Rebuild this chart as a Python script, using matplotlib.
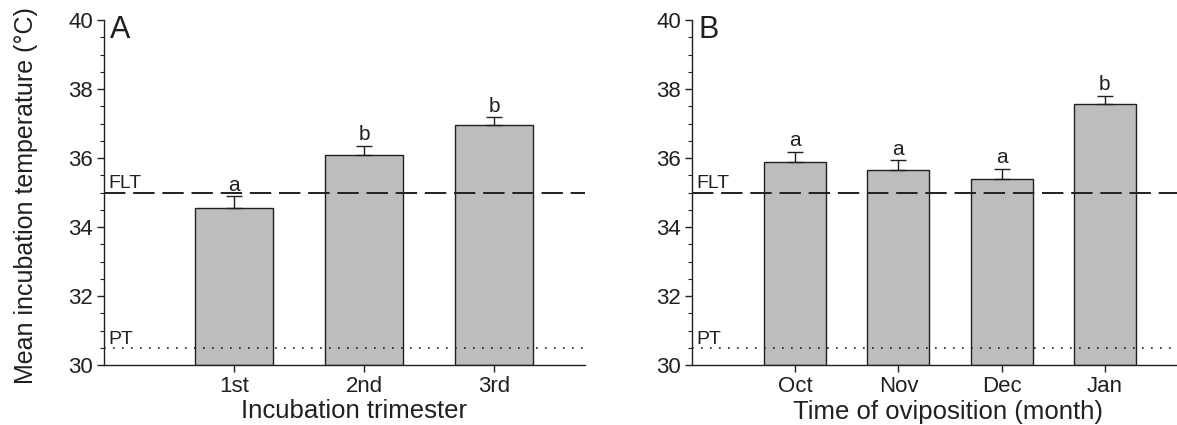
import matplotlib
matplotlib.use("Agg")
import matplotlib.pyplot as plt
import numpy as np

plt.rcParams['font.family'] = ['Liberation Sans', 'DejaVu Sans']

# Panel A data
cats_a = ["1st", "2nd", "3rd"]
means_a = [34.56, 36.10, 36.96]
se_a = [0.33, 0.26, 0.22]
letters_a = ["a", "b", "b"]

# Panel B data
cats_b = ["Oct", "Nov", "Dec", "Jan"]
means_b = [35.89, 35.66, 35.38, 37.56]
se_b = [0.29, 0.28, 0.30, 0.25]
letters_b = ["a", "a", "a", "b"]

FLT = 35.0
PT = 30.48

TXT = "#231f20"
BAR = "#bcbdbf"

fig = plt.figure(figsize=(11.77, 4.25), dpi=100)
W, H = 1177, 425

def make_ax(left_px, right_px):
    return fig.add_axes([left_px / W, 1 - 365 / H, (right_px - left_px) / W, 345 / H])

axA = make_ax(104, 585)
axB = make_ax(692, 1177)

def draw(ax, cats, means, se, letters, xlabel, panel, xlab_x):
    x = np.arange(1, len(cats) + 1)
    ax.bar(x, np.array(means) - 30, bottom=30, width=0.6, color=BAR,
           edgecolor=TXT, linewidth=1.0, zorder=2)
    ax.errorbar(x, means, yerr=[np.zeros(len(se)), se], fmt='none',
                ecolor=TXT, elinewidth=1.0, capsize=6, capthick=1.0, zorder=3)
    for xi, m, s, l in zip(x, means, se, letters):
        ax.annotate(l, (xi, m + s), xytext=(0, 4), textcoords='offset points',
                    ha='center', va='baseline', fontsize=15, color=TXT, zorder=5)
    ax.axhline(FLT, color=TXT, lw=1.4, linestyle=(0, (11, 4)), zorder=4)
    ax.axhline(PT, color=TXT, lw=1.2, linestyle=(0, (1, 4.4)), zorder=4)
    ax.annotate("FLT", (0, FLT), xycoords=('axes fraction', 'data'),
                xytext=(3, 3.5), textcoords='offset points', fontsize=14,
                color=TXT, va='baseline', ha='left')
    ax.annotate("PT", (0, PT), xycoords=('axes fraction', 'data'),
                xytext=(3, 3.5), textcoords='offset points', fontsize=14,
                color=TXT, va='baseline', ha='left')
    ax.set_xlim(0, len(cats) + 0.7)
    ax.set_ylim(30, 40)
    ax.set_xticks(x)
    ax.set_xticklabels(cats)
    ax.set_yticks([30, 32, 34, 36, 38, 40])
    ax.set_yticks(np.arange(30, 40.01, 0.5), minor=True)
    ax.tick_params(axis='both', which='major', direction='out', length=5,
                   width=1.0, labelsize=16, colors=TXT, pad=3)
    ax.tick_params(axis='y', which='minor', direction='out', length=3,
                   width=0.8, colors=TXT)
    ax.tick_params(axis='x', which='minor', bottom=False)
    for sp in ['top', 'right']:
        ax.spines[sp].set_visible(False)
    for sp in ['left', 'bottom']:
        ax.spines[sp].set_linewidth(1.0)
        ax.spines[sp].set_color(TXT)
    ax.set_xlabel(xlabel, fontsize=18.5, color=TXT)
    ax.xaxis.set_label_coords(xlab_x, -0.10)
    ax.text(0.013, 0.948, panel, transform=ax.transAxes, fontsize=22,
            color=TXT, ha='left', va='baseline')

draw(axA, cats_a, means_a, se_a, letters_a, "Incubation trimester", "A", 0.52)
draw(axB, cats_b, means_b, se_b, letters_b, "Time of oviposition (month)", "B", 0.528)

axA.set_ylabel("Mean incubation temperature (°C)", fontsize=18, color=TXT)
axA.yaxis.set_label_coords(-0.137, 0.49)

fig.savefig("out.png", dpi=100)
